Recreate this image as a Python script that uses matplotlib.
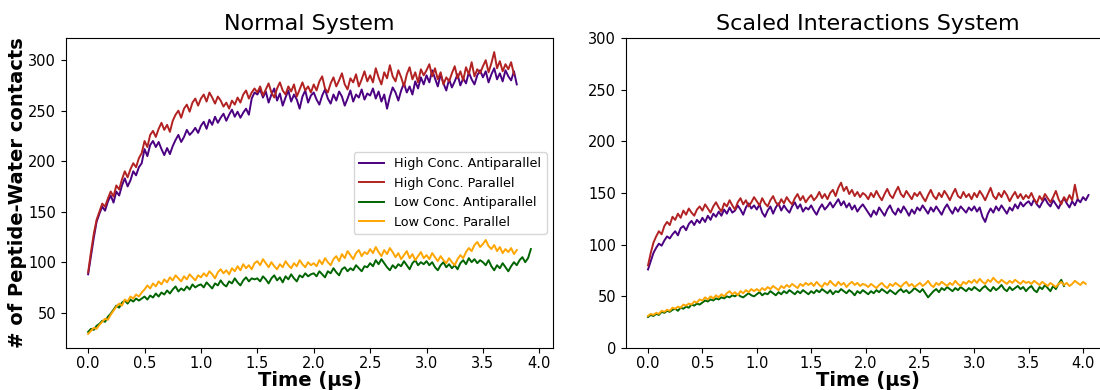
import numpy as np
import matplotlib
matplotlib.use("Agg")
import matplotlib.pyplot as plt

# ---------------- data ----------------
t_step = 0.025  # microseconds between samples

titles = ["Normal System", "Scaled Interactions System"]
series_labels = ["High Conc. Antiparallel", "High Conc. Parallel",
                 "Low Conc. Antiparallel", "Low Conc. Parallel"]
series_colors = ["#4B0082", "#B22222", "#006400", "#FFA500"]

normal_high_anti = [
    88, 106, 124, 140, 148, 155, 151, 160, 166, 159, 170, 166, 176, 183, 175, 181, 190, 186, 194, 198,
    212, 205, 216, 220, 214, 219, 212, 206, 213, 207, 215, 221, 226, 219, 224, 231, 226, 229, 233, 228,
    235, 239, 232, 241, 236, 244, 238, 243, 247, 240, 246, 251, 244, 249, 243, 248, 252, 246, 262, 268,
    266, 271, 263, 269, 258, 266, 272, 260, 267, 255, 263, 270, 259, 266, 261, 252, 264, 270, 258, 265,
    268, 261, 256, 265, 271, 262, 257, 266, 260, 269, 264, 255, 262, 270, 259, 266, 263, 271, 261, 267,
    265, 272, 262, 269, 259, 266, 252, 264, 273, 268, 260, 270, 277, 268, 274, 266, 279, 272, 283, 276,
    285, 278, 290, 282, 274, 286, 277, 270, 281, 273, 279, 286, 275, 282, 277, 288, 281, 276, 285, 290,
    283, 289, 278, 286, 292, 281, 287, 279, 290, 284, 280, 289, 276]
normal_high_par = [
    90, 110, 128, 142, 150, 158, 155, 163, 170, 165, 176, 172, 182, 190, 184, 192, 198, 194, 203, 208,
    220, 214, 226, 230, 224, 232, 238, 231, 236, 229, 240, 246, 250, 243, 252, 256, 249, 258, 262, 255,
    262, 266, 259, 268, 263, 257, 264, 260, 254, 258, 252, 260, 256, 263, 258, 266, 270, 262, 268, 272,
    268, 274, 265, 271, 277, 268, 263, 272, 278, 270, 266, 274, 269, 276, 264, 271, 278, 270, 274, 268,
    276, 270, 279, 284, 272, 268, 277, 283, 274, 280, 287, 276, 271, 282, 278, 286, 274, 281, 289, 279,
    285, 278, 292, 283, 276, 288, 282, 295, 284, 279, 290, 283, 274, 286, 293, 281, 288, 278, 291, 285,
    290, 296, 284, 292, 281, 288, 276, 283, 279, 287, 294, 282, 289, 280, 293, 286, 298, 284, 291, 287,
    294, 300, 288, 297, 308, 292, 299, 289, 296, 291, 298, 286]
normal_low_anti = [
    31, 34, 33, 37, 39, 42, 41, 46, 49, 53, 57, 55, 60, 62, 59, 63, 61, 64, 62, 64,
    66, 63, 67, 65, 69, 66, 70, 68, 72, 69, 73, 76, 71, 74, 72, 76, 73, 78, 75, 77,
    78, 75, 80, 77, 74, 79, 77, 82, 78, 76, 81, 79, 84, 80, 77, 82, 85, 81, 84, 83,
    84, 81, 86, 83, 79, 84, 87, 82, 85, 80, 86, 83, 88, 84, 81, 87, 85, 89, 86, 88,
    89, 86, 91, 88, 85, 91, 89, 94, 90, 87, 93, 95, 91, 94, 92, 97, 94, 91, 96, 95,
    99, 96, 102, 98, 103, 99, 95, 92, 97, 94, 98, 96, 101, 97, 93, 99, 102, 97, 100, 98,
    101, 97, 100, 95, 92, 97, 100, 95, 98, 94, 97, 93, 99, 102, 98, 104, 100, 103, 99, 102,
    100, 97, 102, 96, 92, 97, 94, 99, 95, 91, 96, 100, 97, 102, 105, 100, 104, 113]
normal_low_par = [
    29, 32, 35, 34, 38, 41, 44, 43, 48, 52, 56, 59, 57, 63, 61, 66, 64, 68, 66, 70,
    73, 77, 74, 79, 76, 81, 78, 83, 80, 85, 82, 87, 84, 81, 86, 83, 88, 85, 82, 87,
    85, 89, 86, 91, 88, 84, 90, 93, 89, 92, 88, 94, 91, 96, 92, 98, 94, 97, 93, 99,
    101, 97, 103, 99, 95, 100, 96, 93, 98, 95, 101, 97, 94, 99, 96, 102, 98, 95, 100, 97,
    99, 96, 102, 98, 104, 100, 97, 103, 106, 101, 108, 104, 111, 107, 103, 109, 112, 106, 110, 108,
    113, 109, 115, 110, 106, 112, 108, 114, 110, 105, 109, 103, 107, 111, 104, 108, 102, 106, 110, 104,
    107, 103, 109, 105, 101, 106, 102, 99, 104, 100, 97, 103, 107, 104, 110, 114, 111, 117, 120, 115,
    118, 122, 116, 113, 117, 111, 115, 109, 113, 110, 114, 108, 112]

scaled_high_anti = [
    76, 84, 92, 97, 101, 99, 104, 108, 106, 110, 113, 109, 116, 118, 114, 120, 123, 119, 124, 121,
    126, 122, 128, 124, 130, 127, 132, 128, 134, 130, 136, 131, 133, 138, 134, 129, 136, 140, 135, 138,
    134, 139, 131, 127, 133, 137, 130, 136, 140, 133, 138, 134, 131, 137, 141, 135, 139, 132, 136, 134,
    138, 133, 129, 135, 139, 134, 137, 141, 136, 140, 144, 138, 142, 136, 140, 134, 138, 132, 136, 139,
    135, 131, 127, 133, 129, 136, 132, 128, 134, 138, 132, 129, 135, 131, 137, 133, 128, 134, 130, 136,
    133, 138, 134, 130, 136, 132, 137, 133, 129, 135, 139, 134, 130, 136, 132, 137, 134, 131, 136, 133,
    137, 132, 136, 127, 122, 130, 135, 131, 137, 133, 138, 134, 130, 136, 133, 139, 135, 141, 137, 140,
    142, 138, 144, 139, 136, 141, 145, 140, 137, 143, 139, 135, 141, 145, 140, 136, 142, 138, 144, 141,
    146, 143, 148]
scaled_high_par = [
    80, 92, 102, 108, 113, 110, 118, 122, 119, 127, 124, 130, 126, 133, 129, 135, 131, 128, 134, 137,
    133, 139, 135, 131, 137, 141, 136, 132, 140, 137, 143, 138, 134, 141, 145, 139, 143, 137, 141, 146,
    142, 138, 145, 140, 137, 143, 147, 141, 138, 144, 140, 146, 142, 139, 145, 149, 143, 147, 141, 145,
    148, 143, 146, 151, 145, 149, 144, 150, 153, 147, 155, 160, 152, 156, 149, 153, 147, 151, 146, 150,
    148, 144, 150, 146, 152, 147, 143, 149, 154, 148, 145, 151, 156, 149, 146, 152, 148, 144, 150, 147,
    151, 146, 142, 148, 153, 147, 144, 150, 146, 152, 148, 143, 149, 154, 147, 145, 151, 146, 149, 144,
    150, 146, 152, 148, 143, 149, 155, 147, 144, 150, 146, 152, 148, 142, 147, 151, 145, 149, 144, 148,
    145, 150, 144, 140, 147, 143, 149, 145, 141, 146, 152, 144, 139, 146, 142, 148, 143, 158, 145]
scaled_low_anti = [
    30, 32, 31, 33, 32, 35, 34, 36, 35, 37, 38, 36, 39, 38, 40, 39, 42, 41, 43, 42,
    44, 46, 45, 47, 46, 48, 47, 49, 48, 50, 49, 51, 50, 52, 50, 49, 51, 53, 51, 50,
    52, 54, 51, 53, 52, 55, 53, 51, 54, 52, 55, 53, 56, 54, 52, 55, 53, 56, 54, 52,
    55, 53, 56, 54, 57, 55, 53, 56, 52, 55, 54, 57, 55, 53, 56, 54, 51, 55, 53, 56,
    54, 52, 55, 53, 56, 54, 57, 55, 53, 56, 54, 52, 55, 57, 54, 56, 53, 55, 58, 56,
    54, 57, 53, 49, 52, 55, 57, 54, 58, 56, 59, 57, 55, 58, 56, 59, 57, 55, 58, 56,
    59, 57, 55, 58, 60, 57, 55, 59, 56, 58, 61, 57, 55, 59, 56, 58, 60, 57, 59, 55,
    58, 60, 56, 54, 59, 57, 61, 58, 55, 60, 57, 62, 66, 60]
scaled_low_par = [
    31, 33, 32, 34, 33, 36, 35, 37, 36, 39, 38, 40, 39, 42, 41, 43, 42, 45, 44, 47,
    46, 49, 47, 50, 48, 51, 49, 52, 50, 53, 55, 52, 54, 51, 55, 53, 56, 54, 57, 55,
    57, 55, 58, 56, 59, 57, 60, 58, 56, 60, 58, 61, 59, 62, 60, 58, 62, 60, 63, 61,
    63, 60, 64, 61, 59, 63, 61, 65, 62, 60, 64, 61, 63, 59, 62, 64, 61, 63, 60, 62,
    61, 59, 62, 60, 58, 61, 63, 60, 58, 62, 60, 63, 61, 59, 62, 64, 60, 62, 59, 61,
    63, 60, 62, 65, 61, 59, 63, 61, 64, 62, 60, 63, 61, 65, 62, 60, 64, 62, 65, 63,
    66, 63, 67, 64, 62, 66, 64, 68, 65, 63, 66, 64, 62, 65, 63, 66, 64, 62, 65, 63,
    64, 62, 65, 63, 61, 64, 62, 60, 63, 61, 59, 62, 64, 61, 63, 60, 62, 65, 63, 61,
    64, 62]

panels = [
    [normal_high_anti, normal_high_par, normal_low_anti, normal_low_par],
    [scaled_high_anti, scaled_high_par, scaled_low_anti, scaled_low_par],
]
x_ticks = [0.0, 0.5, 1.0, 1.5, 2.0, 2.5, 3.0, 3.5, 4.0]
right_y_ticks = [0, 50, 100, 150, 200, 250, 300]

# ---------------- figure ----------------
W, H = 1100, 390
fig = plt.figure(figsize=(W / 100, H / 100), dpi=100)
ax_l = fig.add_axes([66 / W, (H - 348) / H, (553 - 66) / W, (348 - 38) / H])
ax_r = fig.add_axes([626 / W, (H - 348) / H, 484.5 / W, (348 - 38) / H])

for ax, title, data in zip([ax_l, ax_r], titles, panels):
    for vals, lab, col in zip(data, series_labels, series_colors):
        t = np.arange(len(vals)) * t_step
        ax.plot(t, vals, color=col, lw=1.4, label=lab)
    ax.set_title(title, fontsize=16)
    ax.set_xlabel("Time (μs)", fontsize=14, fontweight="bold", labelpad=0)
    ax.set_xticks(x_ticks)
    ax.tick_params(labelsize=10.5)
    ax.tick_params(axis="x", pad=2.5)

ax_r.set_ylim(0, 300)
ax_r.set_yticks(right_y_ticks)
ax_l.set_ylabel("# of Peptide-Water contacts", fontsize=14, fontweight="bold", labelpad=1)
ax_l.legend(loc="center right", fontsize=9.2)

fig.savefig("out.png", dpi=100)
